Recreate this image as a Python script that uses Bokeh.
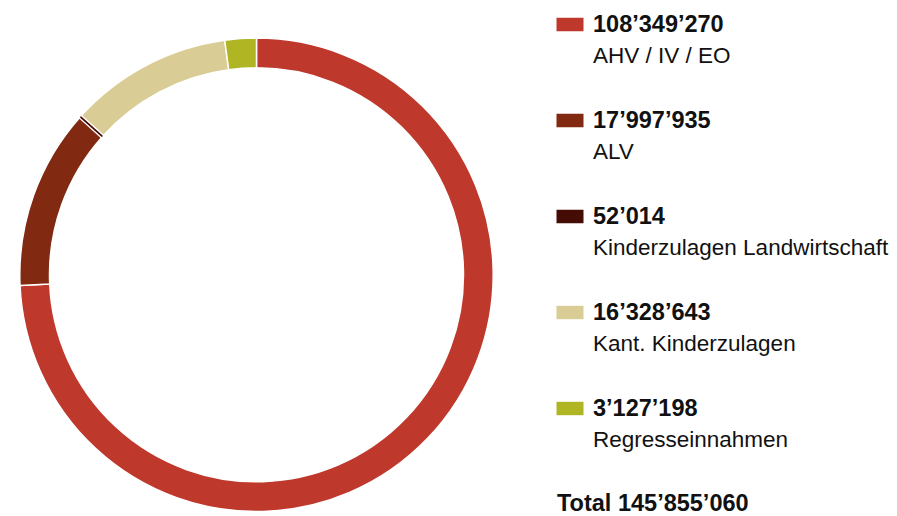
import numpy as np
from bokeh.plotting import figure
from bokeh.models import ColumnDataSource, Range1d
from bokeh.core.properties import value
from bokeh.embed import file_html
from bokeh.resources import INLINE

# ---- data ----
categories = ["AHV / IV / EO", "ALV", "Kinderzulagen Landwirtschaft",
              "Kant. Kinderzulagen", "Regresseinnahmen"]
amounts = [108349270, 17997935, 52014, 16328643, 3127198]
colors = ["#BF382C", "#822A11", "#450C05", "#D9CD95", "#AFB523"]


def fmt(v):
    return f"{v:,}".replace(",", "\u2019")


total = sum(amounts)

# ---- layout (pixel-like data units; y = -pixel row) ----
W, H = 897, 516
X0, Y0 = 0, 0
CX, CY = 256.0, -274.3   # donut centre
R_OUT, R_IN = 236.7, 207.0
TXT_SHIFT = 8.3          # compensate text baseline placement

p = figure(width=W, height=H, output_backend="svg", toolbar_location=None,
           x_range=Range1d(X0, X0 + W), y_range=Range1d(-(Y0 + H), -Y0),
           x_axis_type=None, y_axis_type=None, min_border=0,
           outline_line_color=None, background_fill_color="white")
p.grid.visible = False

fr = np.array(amounts, dtype=float) / total
cum = np.concatenate([[0.0], np.cumsum(fr)])
start = np.pi / 2 - 2 * np.pi * cum[:-1]
end = np.pi / 2 - 2 * np.pi * cum[1:]

src = ColumnDataSource(dict(start=start, end=end, color=colors,
                            x=[CX] * len(amounts), y=[CY] * len(amounts)))
p.annular_wedge(x="x", y="y", inner_radius=R_IN, outer_radius=R_OUT,
                start_angle="start", end_angle="end", direction="clock",
                fill_color="color", line_color="white", line_width=1.5,
                source=src)

# very small slices: white halo then a thin visible stroke
small = [i for i, f in enumerate(fr) if f < 0.002]
if small:
    s2 = ColumnDataSource(dict(start=start[small], end=end[small],
                               color=[colors[i] for i in small],
                               x=[CX] * len(small), y=[CY] * len(small)))
    p.annular_wedge(x="x", y="y", inner_radius=R_IN, outer_radius=R_OUT,
                    start_angle="start", end_angle="end", direction="clock",
                    fill_color="white", line_color="white", line_width=4,
                    line_join="round", source=s2)
    p.annular_wedge(x="x", y="y", inner_radius=R_IN + 0.6, outer_radius=R_OUT - 0.6,
                    start_angle="start", end_angle="end", direction="clock",
                    fill_color="color", line_color="color", line_width=1.3,
                    source=s2)

# ---- legend ----
n = len(amounts)
base = [-(31.7 + 96 * i) for i in range(n)]
leg = ColumnDataSource(dict(
    sx=[569.5] * n, sy=[b + 7.7 for b in base], color=colors,
    tx=[592.5] * n, vy=[b + TXT_SHIFT for b in base],
    ly=[b - 31.6 + TXT_SHIFT for b in base],
    vals=[fmt(a) for a in amounts], labels=categories))
p.rect(x="sx", y="sy", width=27, height=13.4, fill_color="color",
       line_color=None, source=leg)
p.text(x="tx", y="vy", text="vals", source=leg,
       text_font=value("Liberation Sans"), text_font_style="bold",
       text_font_size="23.5px", text_color="#111111",
       text_baseline="alphabetic", text_align="left")
p.text(x="tx", y="ly", text="labels", source=leg,
       text_font=value("Liberation Sans"), text_font_size="22.5px",
       text_color="#111111", text_baseline="alphabetic", text_align="left")

p.text(x=[556.5], y=[-(31.7 + 96 * n - 0.7) + TXT_SHIFT], text=["Total " + fmt(total)],
       text_font=value("Liberation Sans"), text_font_style="bold",
       text_font_size="23.5px", text_color="#111111",
       text_baseline="alphabetic", text_align="left")

open("out.html", "w").write(file_html(p, INLINE))
